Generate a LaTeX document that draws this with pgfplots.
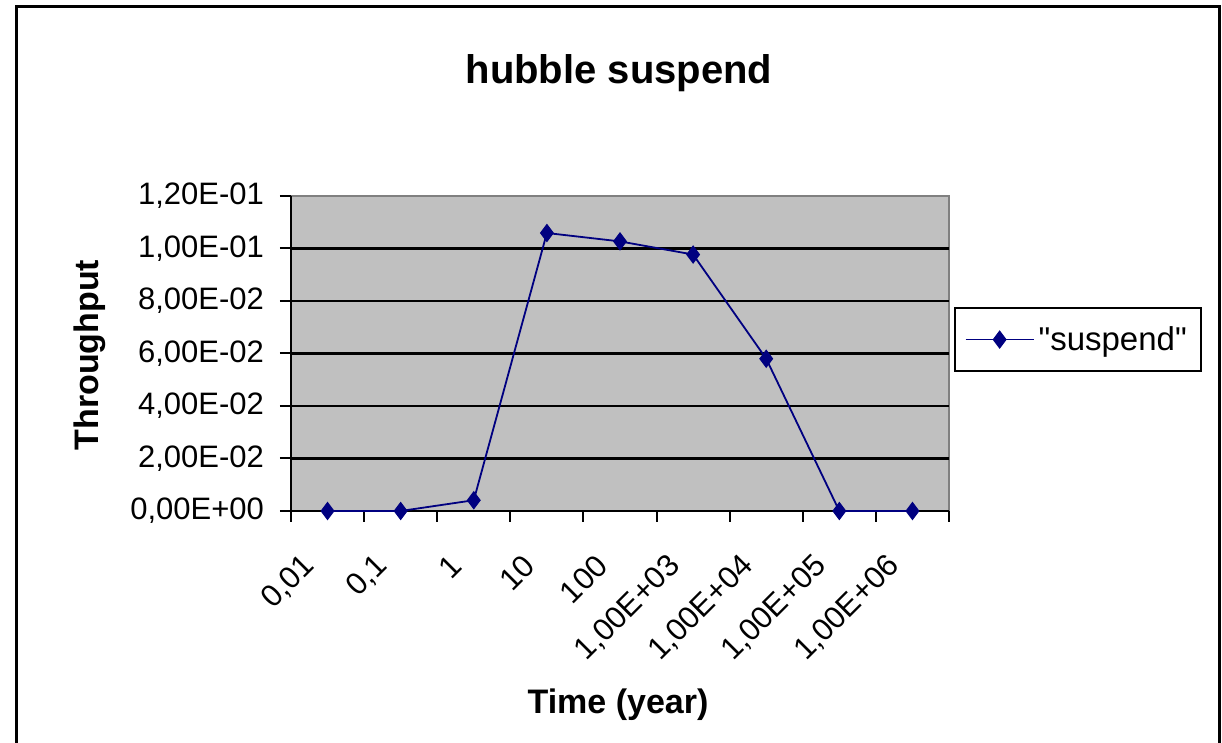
\documentclass[border=0pt]{standalone}
\usepackage{fontspec}
\setmainfont{Liberation Sans}
\newfontfamily\plainfont{Liberation Sans}
\usepackage{pgfplots}
\pgfplotsset{compat=1.18}
\definecolor{plotgray}{RGB}{192,192,192}
\definecolor{navyline}{RGB}{0,0,128}
\definecolor{bordergray}{RGB}{128,128,128}
\begin{document}
\begin{tikzpicture}
\useasboundingbox (0,0) rectangle (611pt,371.5pt);
\draw[line width=1.5pt] (8pt,-2pt) -- (8pt,368pt) -- (609.5pt,368pt) -- (609.5pt,-2pt);
\begin{axis}[
  at={(145.5pt,116pt)}, anchor=south west,
  scale only axis, width=329pt, height=157.5pt,
  xmin=-0.5, xmax=8.5, ymin=0, ymax=0.12,
  axis background/.style={fill=plotgray, draw=bordergray, line width=0.75pt},
  axis x line*=bottom, axis y line*=left,
  axis line style={black, line width=1pt, -},
  tick pos=left,
  tick align=outside,
  major tick length=5.5pt,
  tick style={black, line width=1pt},
  xtick={-0.5,0.5,1.5,2.5,3.5,4.5,5.5,6.5,7.5,8.5},
  x tick label as interval,
  xticklabels={{0,01},{0,1},1,10,100,{1,00E+03},{1,00E+04},{1,00E+05},{1,00E+06}},
  xticklabel style={xshift=-6.5pt, yshift=-17pt, rotate=45, anchor=east},
  ytick={0,0.02,0.04,0.06,0.08,0.1},
  yticklabels={{0,00E+00},{2,00E-02},{4,00E-02},{6,00E-02},{8,00E-02},{1,00E-01}},
  extra y ticks={0.12},
  extra y tick labels={{1{,}20E-01}},
  extra y tick style={grid=none},
  yticklabel style={xshift=-4.5pt},
  scaled y ticks=false,
  ymajorgrids,
  major grid style={black, line width=1.25pt},
  tick label style={font=\fontsize{15.5}{18}\selectfont},
  title={hubble suspend},
  title style={font=\bfseries\fontsize{20}{24}\selectfont, at={(axis description cs:0.4985,1.352)}, anchor=center, yshift=0pt},
  xlabel={Time (year)},
  xlabel style={font=\bfseries\fontsize{17}{20}\selectfont, at={(axis description cs:0.497,-0.616)}, anchor=center},
  ylabel={Throughput},
  ylabel style={font=\bfseries\fontsize{17}{20}\selectfont, at={(axis description cs:-0.3055,0.495)}, anchor=center},
  legend style={at={(axis description cs:1.0076,0.6465)}, anchor=north west, draw=black, line width=0.75pt,
    font=\plainfont\fontsize{16.5}{19}\selectfont, inner xsep=5pt, inner ysep=7pt},
  legend image code/.code={\draw[mark repeat=2,mark phase=2,#1] plot coordinates {(0pt,0pt) (17pt,0pt) (34pt,0pt)};},
  clip=false,
]
\addplot[color=navyline, line width=0.9pt, mark=diamond*, mark size=4.25pt, mark options={solid, fill=navyline, line width=0.5pt}]
  coordinates {(0,0) (1,0) (2,0.0041) (3,0.1059) (4,0.1027) (5,0.0977) (6,0.0580) (7,0) (8,0)};
\addlegendentry{"suspend"}
\end{axis}
\end{tikzpicture}
\end{document}
